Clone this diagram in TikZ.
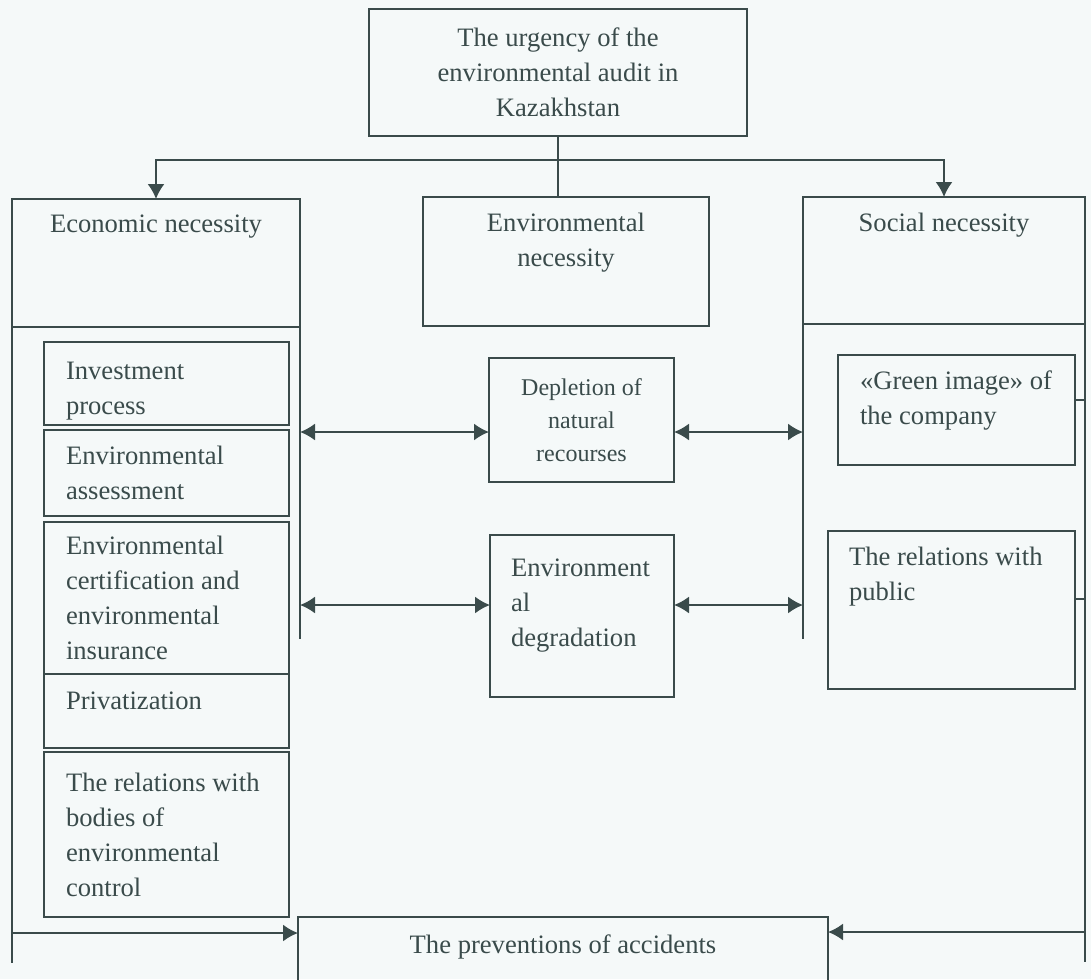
\documentclass[tikz,border=0pt]{standalone}
\usepackage{fontspec}
\setmainfont{Liberation Serif}
\usepackage{tikz}
\usetikzlibrary{arrows.meta,positioning,calc}
\definecolor{ink}{RGB}{58,75,75}
\definecolor{paper}{RGB}{245,249,249}
\tikzstyle{frame} = [rectangle, draw=ink, line width=0.9pt, inner sep=0pt, outer sep=0pt]
\tikzstyle{block} = [frame, align=flush left, inner xsep=11pt, text width=100.5pt]
\tikzstyle{title} = [inner sep=0pt, outer sep=0pt]

\begin{document}
\begin{tikzpicture}[x=0.5pt, y=-0.5pt, color=ink, line width=0.9pt, font=\fontsize{13.3}{17.5}\selectfont, >={Latex[length=7.5pt,width=8.5pt]}]
        \clip (0,0) rectangle (1091,979);
        \fill[paper] (0,0) rectangle (1091,979);

        \node[frame, align=center, minimum width=189pt, minimum height=63.5pt] (urgency) at (558,72.5) {The urgency of the\\environmental audit in\\Kazakhstan};

        \node[frame, minimum width=144pt, minimum height=64pt, label={[title, anchor=north, yshift=-8pt]north:Economic necessity}] (econ) at (156,263) {};
        \node[frame, minimum width=143pt, minimum height=64.5pt, label={[title, align=center, anchor=north, yshift=-8pt]north:Environmental\\necessity}] (envnec) at (566,261.5) {};
        \node[frame, minimum width=141pt, minimum height=63.5pt, label={[title, anchor=north, yshift=-8pt]north:Social necessity}] (social) at (944,260.5) {};

        \node[frame, minimum width=122.5pt, minimum height=41.5pt, label={[title, align=flush left, anchor=north west, xshift=11pt, yshift=-10pt]north west:Investment\\process}] (invest) at (166.5,383.5) {};
        \node[block, minimum height=43pt, below=2.5pt of invest] (assess) {Environmental\\assessment};
        \node[block, minimum height=76pt, below=3pt of assess] (certif) {Environmental\\certification and\\environmental\\insurance};
        \node[frame, minimum width=122.5pt, minimum height=37pt, below=0pt of certif, label={[title, anchor=north west, xshift=11pt, yshift=-9pt]north west:Privatization}] (privat) {};
        \node[block, minimum height=82.5pt, below=2pt of privat] (bodies) {The relations with\\bodies of\\environmental\\control};

        \node[frame, align=center, minimum width=92.5pt, minimum height=62pt, font=\fontsize{12}{16.5}\selectfont] (deplet) at (581.5,420) {Depletion of\\natural\\recourses};
        \node[frame, minimum width=92pt, minimum height=81pt, label={[title, align=flush left, anchor=north west, xshift=10.5pt, yshift=-12pt]north west:Environment\\al\\degradation}] (degrad) at (582,616) {};

        \node[frame, minimum width=118.5pt, minimum height=55pt, label={[title, align=flush left, anchor=north west, xshift=11pt, yshift=-8pt]north west:«Green image» of\\the company}] (green) at (956.5,410) {};
        \node[frame, minimum width=123.5pt, minimum height=79pt, label={[title, align=flush left, anchor=north west, xshift=10.5pt, yshift=-8pt]north west:The relations with\\public}] (public) at (951.5,610) {};

        \node[frame, minimum width=265pt, minimum height=42pt, label={[title, anchor=north, yshift=-9pt]north:The preventions of accidents}] (prevent) at (563,959) {};

        \coordinate (split) at (urgency.south |- 0,160);
        \coordinate (econL) at (econ.south west |- 0,963);
        \coordinate (econR) at (econ.south east |- 0,639);
        \coordinate (socL) at (social.south west |- 0,639);
        \coordinate (socR) at (social.south east |- 0,962);
        \coordinate (d1) at ([yshift=-6pt]deplet.west);
        \coordinate (d2) at ([yshift=-6pt]deplet.east);
        \coordinate (g1) at ([yshift=5.5pt]degrad.west);
        \coordinate (g2) at ([yshift=5.5pt]degrad.east);
        \coordinate (t1) at ([yshift=5pt]green.east);
        \coordinate (t2) at ([yshift=5.5pt]public.east);
        \coordinate (p1) at ([yshift=-8pt]prevent.north west);
        \coordinate (p2) at ([yshift=-7.5pt]prevent.north east);

        \draw (urgency.south) -- (urgency.south |- envnec.north);
        \draw[->] (split) -| (econ.north);
        \draw[->] (split) -| (social.north);

        \draw (econ.south west) -- (econL);
        \draw (econ.south east) -- (econR);
        \draw (social.south west) -- (socL);
        \draw (social.south east) -- (socR);

        \draw[<->] (d1 -| econ.east) -- (d1);
        \draw[<->] (d2) -- (d2 -| social.west);
        \draw[<->] (g1 -| econ.east) -- (g1);
        \draw[<->] (g2) -- (g2 -| social.west);

        \draw (t1) -- (t1 -| social.east);
        \draw (t2) -- (t2 -| social.east);

        \draw[->] (p1 -| econ.west) -- (p1);
        \draw[->] (p2 -| social.east) -- (p2);

    \end{tikzpicture}
\end{document}
